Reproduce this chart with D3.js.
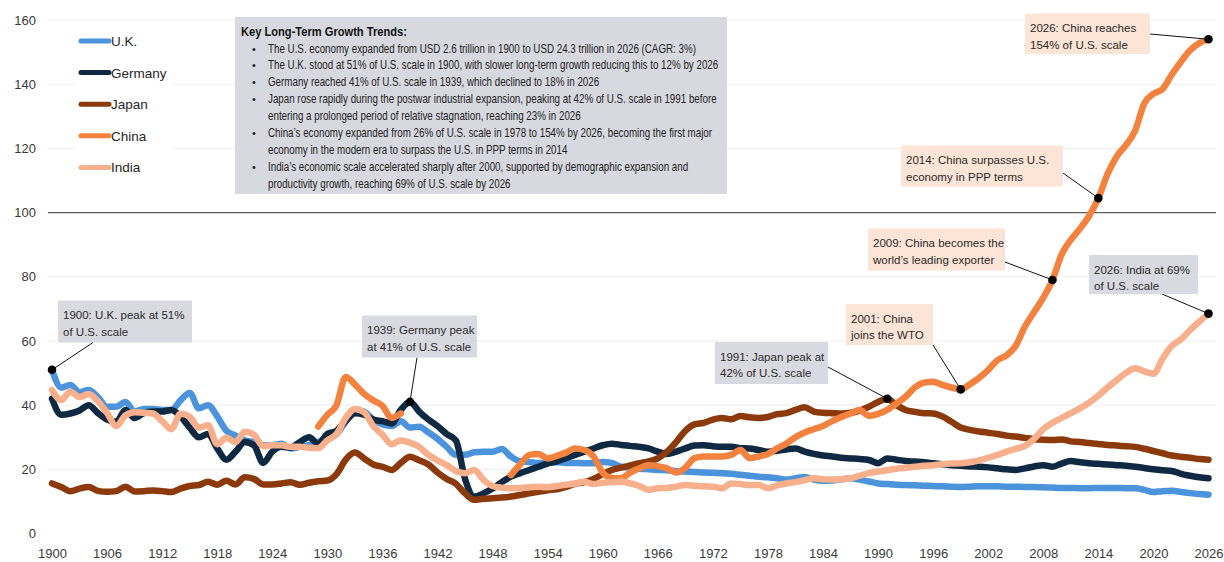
<!DOCTYPE html>
<html>
<head>
<meta charset="utf-8">
<style>
  body { margin: 0; background: #fff; }
  text { font-family: "Liberation Sans", Arial, sans-serif; }
</style>
</head>
<body>
<svg width="1224" height="562"></svg>
<script src="https://cdn.jsdelivr.net/npm/d3@7"></script>
<script>
// ---- data (GDP as % of U.S. scale) ----
var startYear = 1900;

var ukValues = [
  51, 45.5, 46.3, 44, 44.7, 42.5, 39.5, 39.5, 41, 38,
  38.8, 38.8, 38.5, 38.5, 41.5, 43.8, 39, 40, 36.5, 32,
  30.5, 29, 28.5, 27.5, 27.5, 28, 26.5, 27, 27.5, 28.5,
  30, 31, 35, 38.5, 38, 35.5, 34, 33.5, 35, 33,
  33.3, 31.5, 29.5, 27, 24.5, 24.5, 25.3, 25.5, 25.5, 26.3,
  24, 22.5, 22.3, 22, 22, 22.2, 22, 22, 21.9, 21.9,
  22.3, 22, 20.8, 20.5, 20.2, 20, 19.8, 19.7, 19.5, 19.3,
  19.2, 19, 18.9, 18.8, 18.6, 18.3, 18, 17.7, 17.5, 17.2,
  16.8, 17.2, 17.6, 16.8, 16.4, 16.5, 16.9, 17.2, 16.8, 16.2,
  15.6, 15.4, 15.2, 15.1, 15, 14.9, 14.8, 14.7, 14.6, 14.5,
  14.6, 14.7, 14.7, 14.7, 14.6, 14.6, 14.5, 14.5, 14.4, 14.3,
  14.2, 14.2, 14.1, 14.1, 14.2, 14.2, 14.2, 14.1, 14.1, 13.6,
  12.9, 13.2, 13.3, 12.9, 12.6, 12.3, 12.1
];

var germanyValues = [
  42, 37, 37.4, 38.3, 40, 37.5, 35.5, 34.8, 38.5, 36,
  37.5, 38, 38, 38.5, 36.5, 33, 30, 31, 26.5, 23,
  25.5, 28.5, 27.5, 22, 25.5, 27, 26.8, 28.5, 30, 28,
  31, 32, 35, 37.5, 37, 35.5, 35, 34.3, 38.5, 41,
  38, 35.5, 33.5, 31, 29, 17, 11.5, 12.5, 14, 16,
  17.7, 18.8, 19.8, 20.8, 21.8, 22.5, 23.5, 24.5, 25.5, 26.5,
  27.5, 28, 27.6, 27.3, 27, 26.5, 25.5, 24.8, 25.5, 26.5,
  27.4, 27.5, 27.2, 27, 27, 26.6, 26.5, 26, 25.5, 25.8,
  26.2, 26.5, 25.5, 24.8, 24.3, 24, 23.6, 23.4, 23.2, 22.9,
  21.9, 23.4, 23, 22.6, 22.4, 22.2, 21.9, 21.6, 21.3, 21.1,
  20.9, 20.8, 20.6, 20.3, 20, 19.8, 20.3, 20.9, 21.3, 20.8,
  21.8, 22.6, 22.2, 21.9, 21.7, 21.5, 21.3, 21.1, 20.8, 20.4,
  20, 19.7, 19.5, 18.6, 18, 17.5, 17.2
];

var japanValues = [
  15.6, 14.5, 13.2, 14, 14.5, 13.3, 13, 13.2, 14.6, 13.1,
  13.2, 13.4, 13.2, 12.9, 14, 14.8, 15.1, 16.1, 15.2, 16.4,
  15.3, 17.5, 17, 15.3, 15.3, 15.6, 16, 15.2, 15.8, 16.3,
  16.5, 18.5, 23, 25.2, 23.4, 21.5, 20.8, 19.8, 22, 23.9,
  22.8, 21.5, 19, 17, 15.5, 12.5, 10.5, 10.8, 11, 11.2,
  11.5, 12, 12.5, 13, 13.5, 13.8, 14.5, 15.5, 16, 17,
  18.5, 19.8, 20.5, 21.2, 21.9, 22.5, 23.4, 25.5, 28.5, 32,
  34, 34.5, 35.5, 36, 35.6, 36.6, 36.2, 36, 36.3, 37.2,
  37.5, 38.5, 39.3, 38, 37.6, 37.5, 37.4, 37.6, 38.3, 39.5,
  41, 42, 40, 38.5, 37.9, 37.5, 37.4, 36.5, 34.8, 33,
  32.3, 31.8, 31.4, 31, 30.5, 30.2, 29.8, 29.4, 29.2, 29.1,
  29.3, 28.7, 28.5, 28.2, 27.9, 27.6, 27.4, 27.2, 27, 26.4,
  25.7, 25, 24.3, 23.9, 23.6, 23.2, 23
];

var chinaValues = [
  null, null, null, null, null, null, null, null, null, null,
  null, null, null, null, null, null, null, null, null, null,
  null, null, null, null, null, null, null, null, null, 33.3,
  37, 40, 48.8, 46.5, 43.5, 41.5, 39.8, 36, 37.4, null,
  null, null, null, null, null, null, null, null, null, null,
  18.2, 21.5, 24.5, 24.8, 23.4, 24.2, 25.2, 26.5, 26, 24,
  19, 17.3, 17.2, 19, 20.3, 21.3, 21, 20.3, 19, 20.5,
  23.5, 24, 24, 24, 24.5, 26, 23.5, 24, 24.8, 26.5,
  28, 30, 31.5, 32.5, 33.5, 35, 36.3, 37.4, 38.5, 36.7,
  37.3, 38.5, 40.5, 42.6, 45.5, 47, 47.3, 46.3, 45.5, 44.9,
  46.5, 48.5, 51, 54, 55.5, 58.5, 64.5, 69, 73.5, 79,
  87, 91.5, 95, 99, 104.5, 112, 117.5, 121, 125.5, 134,
  137, 138.5, 143, 147, 150.6, 152.8, 154
];

var indiaValues = [
  44.7, 41.6, 44.2, 42.5, 43.5, 41.2, 37.6, 33.5, 36.8, 37.8,
  37.6, 37.4, 35, 32.5, 37.3, 36.4, 33, 33.7, 27.8, 29.8,
  28.5, 31.7, 30.8, 27.2, 27.5, 27.5, 27, 27, 26.7, 26.6,
  29, 31, 36, 38.8, 37.8, 33.5, 30.8, 27.8, 29, 28.3,
  27, 24.5, 22.8, 21.3, 19.5, 18.8, 19.8, 16.7, 14.8, 14.3,
  14.1, 14.2, 14.4, 14.6, 14.4, 14.8, 15.2, 15.6, 16.1, 15.4,
  15.8, 16, 16.1, 15.6, 14.8, 13.6, 14.1, 14.2, 14.6, 15.1,
  14.9, 14.7, 14.6, 14.1, 15.6, 15.4, 15.1, 15.1, 14.1, 15,
  15.6, 16, 16.6, 17.2, 16.9, 16.8, 16.9, 17.2, 18, 18.8,
  19.3, 19.7, 20.2, 20.5, 20.8, 21.1, 21.3, 21.6, 21.8, 21.9,
  22.2, 22.8, 23.6, 24.5, 25.5, 26.4, 27.3, 29.5, 32.5, 34.5,
  36, 37.5, 39, 40.8, 43, 45.5, 47.8, 50, 51.5, 50.5,
  49.8, 54.5, 58.5, 60.5, 63.4, 66, 68.5
];

var seriesNames = ['U.K.', 'Germany', 'Japan', 'China', 'India'];
var seriesValues = [ukValues, germanyValues, japanValues, chinaValues, indiaValues];
var seriesColors = ['#4b93db', '#0f2942', '#8c3a0c', '#f4823f', '#f8b08c'];

var xTicks = [1900, 1906, 1912, 1918, 1924, 1930, 1936, 1942, 1948, 1954, 1960,
  1966, 1972, 1978, 1984, 1990, 1996, 2002, 2008, 2014, 2020, 2026];
var yTicks = [0, 20, 40, 60, 80, 100, 120, 140, 160];

var trendTitle = 'Key Long-Term Growth Trends:';
var trendLines = [
  { t: 'The U.S. economy expanded from USD 2.6 trillion in 1900 to USD 24.3 trillion in 2026 (CAGR: 3%)', bullet: true },
  { t: 'The U.K. stood at 51% of U.S. scale in 1900, with slower long-term growth reducing this to 12% by 2026', bullet: true },
  { t: 'Germany reached 41% of U.S. scale in 1939, which declined to 18% in 2026', bullet: true },
  { t: 'Japan rose rapidly during the postwar industrial expansion, peaking at 42% of U.S. scale in 1991 before', bullet: true },
  { t: 'entering a prolonged period of relative stagnation, reaching 23% in 2026', bullet: false },
  { t: 'China\u2019s economy expanded from 26% of U.S. scale in 1978 to 154% by 2026, becoming the first major', bullet: true },
  { t: 'economy in the modern era to surpass the U.S. in PPP terms in 2014', bullet: false },
  { t: 'India\u2019s economic scale accelerated sharply after 2000, supported by demographic expansion and', bullet: true },
  { t: 'productivity growth, reaching 69% of U.S. scale by 2026', bullet: false }
];

var gray = '#d9d9e1', peach = '#fce4d6';
var notes = [
  { s: 0, year: 1900, lines: ['1900: U.K. peak at 51%', 'of U.S. scale'], fill: gray, box: [58, 300.5, 134, 42], from: [93, 342.5] },
  { s: 1, year: 1939, lines: ['1939: Germany peak', 'at 41% of U.S. scale'], fill: gray, box: [362, 315.5, 115, 42], from: [417, 357.5] },
  { s: 2, year: 1991, lines: ['1991: Japan peak at', '42% of U.S. scale'], fill: gray, box: [715, 342, 113, 42], from: [828, 367] },
  { s: 3, year: 1999, lines: ['2001: China', 'joins the WTO'], fill: peach, box: [846, 304, 87, 41], from: [933, 345] },
  { s: 3, year: 2009, lines: ['2009: China becomes the', 'world\u2019s leading exporter'], fill: peach, box: [868, 228.5, 137, 42], from: [1005, 262] },
  { s: 3, year: 2014, lines: ['2014: China surpasses U.S.', 'economy in PPP terms'], fill: peach, box: [901, 145.5, 162, 41], from: [1063, 173] },
  { s: 3, year: 2026, lines: ['2026: China reaches', '154% of U.S. scale'], fill: peach, box: [1025, 13.5, 125, 40.5], from: [1150, 34] },
  { s: 4, year: 2026, lines: ['2026: India at 69%', 'of U.S. scale'], fill: gray, box: [1089, 255, 109, 39], from: [1162, 294] }
];

// ---- chart ----
var svg = d3.select('svg');

var x = d3.scaleLinear().domain([1900, 2026]).range([52, 1208.5]);
var y = d3.scaleLinear().domain([0, 160]).range([533.5, 20]);

// gridlines
svg.append('g')
  .selectAll('line')
  .data(yTicks.filter(function (v) { return v > 0; }))
  .enter().append('line')
  .attr('x1', 48).attr('x2', 1216)
  .attr('y1', function (v) { return y(v); })
  .attr('y2', function (v) { return y(v); })
  .attr('stroke', function (v) { return v === 100 ? '#5a5a5a' : '#ededed'; })
  .attr('stroke-width', function (v) { return v === 100 ? 1.3 : 1; });

// axes
var yAxis = svg.append('g')
  .attr('transform', 'translate(40,0)')
  .call(d3.axisLeft(y).tickValues(yTicks).tickSize(0).tickPadding(4));
var xAxis = svg.append('g')
  .attr('transform', 'translate(0,541)')
  .call(d3.axisBottom(x).tickValues(xTicks).tickFormat(d3.format('d')).tickSize(0).tickPadding(8));
[yAxis, xAxis].forEach(function (a) {
  a.select('.domain').remove();
  a.selectAll('text')
    .style('font-family', '"Liberation Sans", Arial, sans-serif')
    .style('font-size', '13px')
    .attr('fill', '#3a3a3a');
});

// lines
var line = d3.line()
  .defined(function (d) { return d.v != null; })
  .x(function (d) { return x(d.year); })
  .y(function (d) { return y(d.v); })
  .curve(d3.curveMonotoneX);

seriesValues.forEach(function (vals, i) {
  var pts = vals.map(function (v, k) { return { year: startYear + k, v: v }; });
  svg.append('path')
    .datum(pts)
    .attr('d', line)
    .attr('fill', 'none')
    .attr('stroke', seriesColors[i])
    .attr('stroke-width', 6.5)
    .attr('stroke-linejoin', 'round')
    .attr('stroke-linecap', 'round');
});

// legend
var legend = svg.append('g');
legend.append('rect').attr('x', 75).attr('y', 26).attr('width', 98).attr('height', 156).attr('fill', '#fff');
seriesNames.forEach(function (name, i) {
  var ly = 41 + i * 31.6;
  legend.append('line')
    .attr('x1', 81).attr('x2', 109).attr('y1', ly).attr('y2', ly)
    .attr('stroke', seriesColors[i]).attr('stroke-width', 5).attr('stroke-linecap', 'round');
  legend.append('text')
    .attr('x', 111).attr('y', ly + 5)
    .attr('font-size', '13.5px').attr('fill', '#262626')
    .text(name);
});

// trends box
var tb = svg.append('g');
tb.append('rect').attr('x', 235).attr('y', 17).attr('width', 492).attr('height', 177).attr('fill', '#d8d8e0');
var titleG = tb.append('g');
var titleT = titleG.append('text').attr('font-size', '13.5px').attr('font-weight', 'bold').attr('fill', '#111').text(trendTitle);
titleG.attr('transform', 'translate(241,36) scale(' + (166 / titleT.node().getComputedTextLength()) + ',1)');

var sx = null;
trendLines.forEach(function (d, i) {
  var by = 52.5 + i * 16.9;
  if (d.bullet) {
    tb.append('text').attr('x', 252).attr('y', by).attr('font-size', '11px').attr('fill', '#222').text('\u2022');
  }
  var g = tb.append('g');
  var t = g.append('text').attr('font-size', '12.3px').attr('fill', '#222').text(d.t);
  if (sx === null) sx = 428 / t.node().getComputedTextLength();
  g.attr('transform', 'translate(268,' + by + ') scale(' + sx + ',1)');
});

// annotations
notes.forEach(function (n) {
  var v = seriesValues[n.s][n.year - startYear];
  var px = x(n.year), py = y(v);
  svg.append('line')
    .attr('x1', n.from[0]).attr('y1', n.from[1]).attr('x2', px).attr('y2', py)
    .attr('stroke', '#111').attr('stroke-width', 1);
  svg.append('rect')
    .attr('x', n.box[0]).attr('y', n.box[1]).attr('width', n.box[2]).attr('height', n.box[3])
    .attr('fill', n.fill);
  n.lines.forEach(function (s, k) {
    svg.append('text')
      .attr('x', n.box[0] + 5).attr('y', n.box[1] + 18.5 + k * 16.5)
      .attr('font-size', '11.5px').attr('fill', '#2b2b2b')
      .text(s);
  });
  svg.append('circle').attr('cx', px).attr('cy', py).attr('r', 4.3).attr('fill', '#000');
});
</script>
</body>
</html>
